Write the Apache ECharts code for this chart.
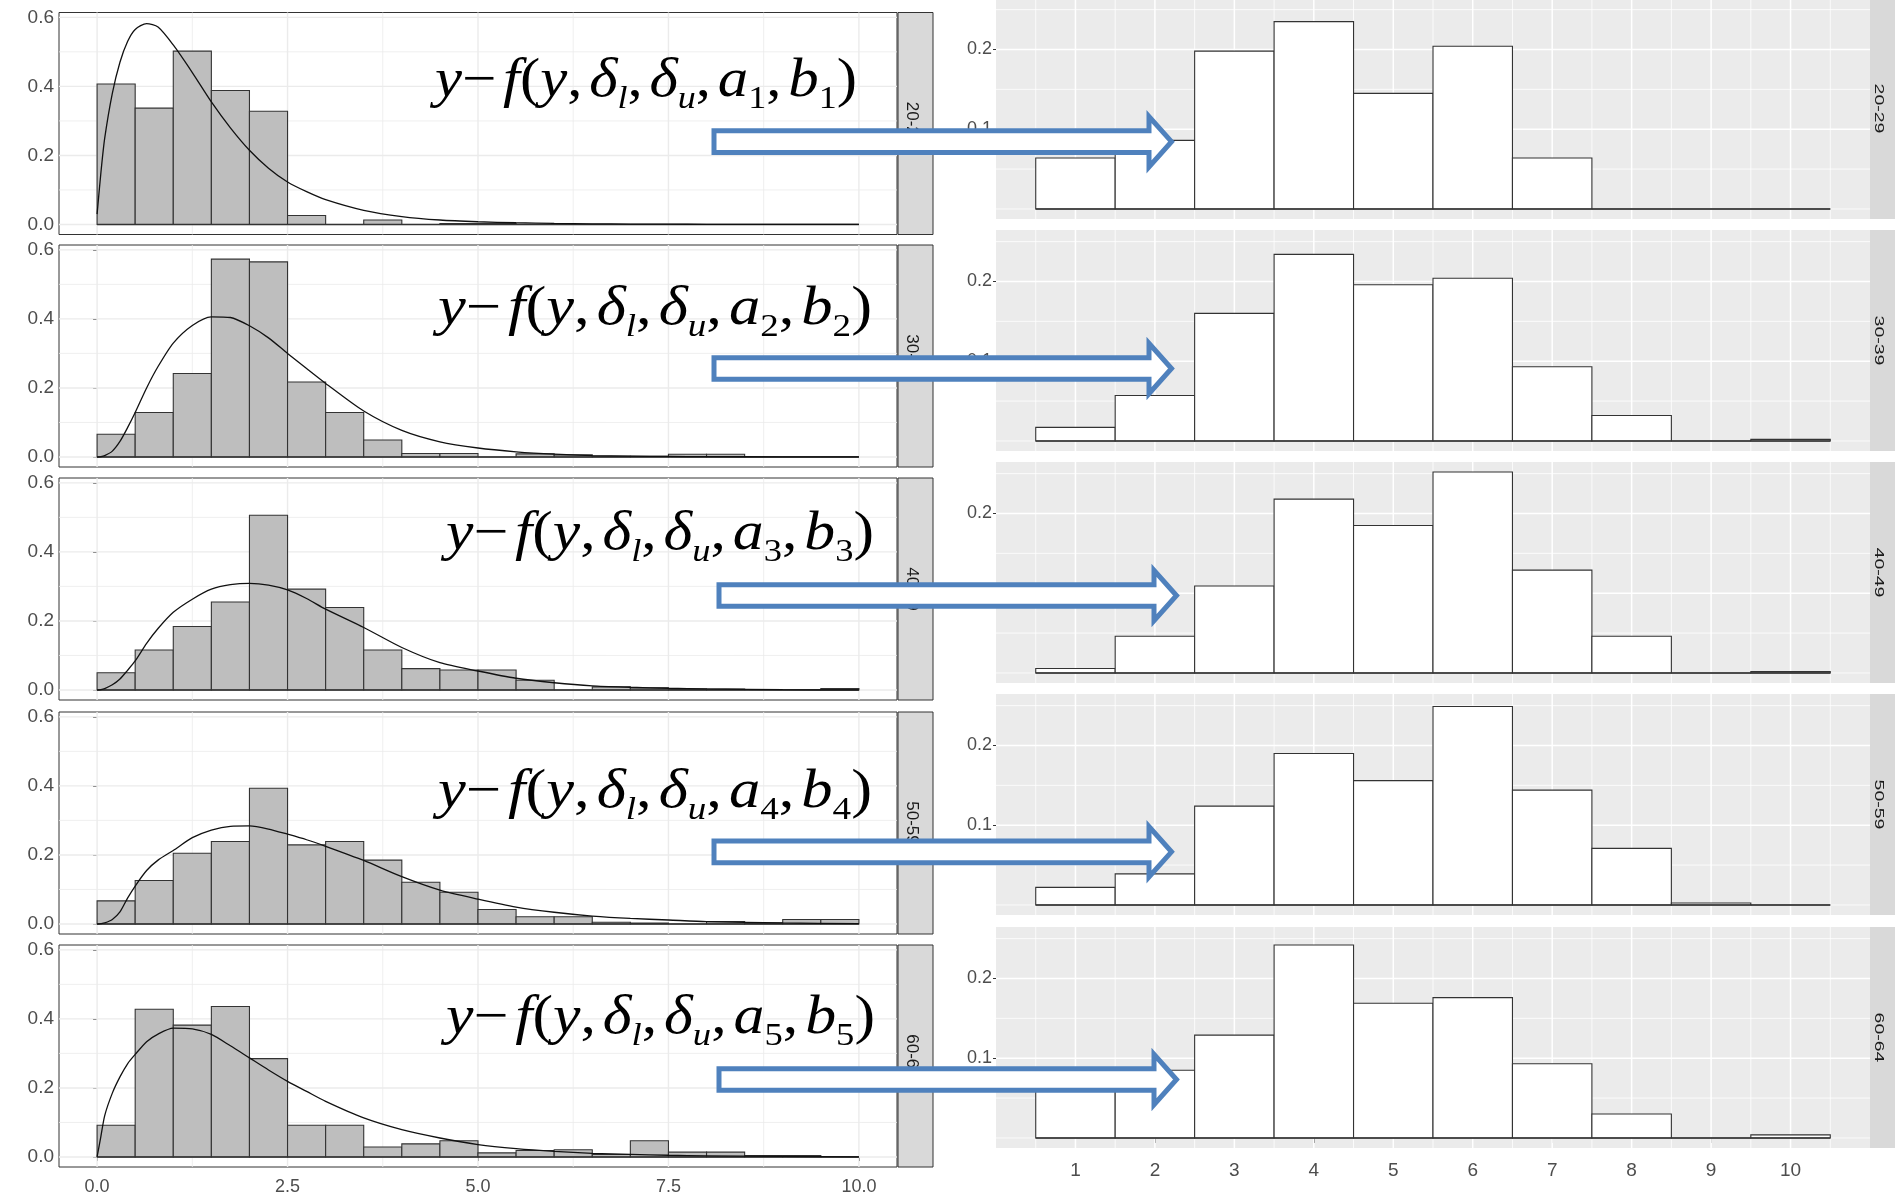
<!DOCTYPE html>
<html>
<head>
<meta charset="utf-8">
<script src="https://cdn.jsdelivr.net/npm/echarts@6/dist/echarts.min.js"></script>
<style>
  html, body { margin: 0; padding: 0; background: #fff; }
  #chart { width: 1895px; height: 1199px; }
</style>
</head>
<body>
<div id="chart"></div>
<script>
// ---- age groups (facet labels) ----
const groups = ['20-29', '30-39', '40-49', '50-59', '60-64'];

// ---- left column: histogram (bin width 0.5) with fitted density ----
const leftEdges = [0, 0.5, 1, 1.5, 2, 2.5, 3, 3.5, 4, 4.5, 5, 5.5, 6, 6.5, 7, 7.5, 8, 8.5, 9, 9.5, 10];
const leftHist2029 = [0.407, 0.337, 0.502, 0.388, 0.328, 0.026, 0, 0.013, 0, 0.003, 0.003, 0, 0, 0, 0, 0, 0, 0, 0, 0];
const leftHist3039 = [0.066, 0.129, 0.242, 0.573, 0.565, 0.217, 0.129, 0.049, 0.010, 0.010, 0, 0.009, 0.006, 0.002, 0.002, 0.008, 0.008, 0, 0, 0];
const leftHist4049 = [0.050, 0.116, 0.184, 0.255, 0.506, 0.292, 0.239, 0.116, 0.062, 0.058, 0.058, 0.028, 0, 0.009, 0.006, 0.003, 0.003, 0, 0, 0.004];
const leftHist5059 = [0.067, 0.126, 0.205, 0.239, 0.393, 0.229, 0.239, 0.185, 0.121, 0.092, 0.042, 0.021, 0.021, 0.005, 0.003, 0, 0.007, 0.003, 0.013, 0.013];
const leftHist6064 = [0.092, 0.428, 0.382, 0.436, 0.285, 0.092, 0.092, 0.029, 0.038, 0.047, 0.012, 0.019, 0.021, 0.007, 0.047, 0.014, 0.014, 0.004, 0.004, 0];

const curveX    = [0, 0.05, 0.1, 0.2, 0.3, 0.4, 0.5, 0.65, 0.8, 1.0, 1.25, 1.5, 1.75, 2.0, 2.25, 2.5, 2.75, 3.0, 3.5, 4.0, 4.5, 5.0, 5.5, 6.0, 6.5, 7.0, 7.5, 8.0, 9.0, 10.0];
const curve2029 = [0.03, 0.15, 0.25, 0.38, 0.47, 0.53, 0.565, 0.582, 0.572, 0.52, 0.44, 0.355, 0.28, 0.215, 0.163, 0.123, 0.095, 0.072, 0.041, 0.023, 0.013, 0.008, 0.005, 0.003, 0.002, 0.0012, 0.0008, 0.0005, 0.0002, 0.0001];
const curve3039 = [0, 0.001, 0.004, 0.017, 0.045, 0.085, 0.129, 0.2, 0.262, 0.33, 0.381, 0.406, 0.404, 0.38, 0.345, 0.3, 0.256, 0.213, 0.133, 0.077, 0.044, 0.026, 0.015, 0.008, 0.004, 0.0025, 0.0015, 0.001, 0.0004, 0.0001];
const curve4049 = [0, 0.001, 0.004, 0.015, 0.032, 0.057, 0.084, 0.135, 0.178, 0.225, 0.263, 0.292, 0.305, 0.309, 0.304, 0.29, 0.265, 0.234, 0.181, 0.123, 0.079, 0.055, 0.034, 0.021, 0.012, 0.008, 0.005, 0.003, 0.001, 0.0003];
const curve5059 = [0, 0.001, 0.003, 0.013, 0.035, 0.075, 0.11, 0.155, 0.185, 0.213, 0.25, 0.272, 0.283, 0.284, 0.275, 0.26, 0.244, 0.225, 0.184, 0.137, 0.098, 0.072, 0.049, 0.034, 0.023, 0.016, 0.0116, 0.007, 0.003, 0.001];
const curve6064 = [0, 0.06, 0.12, 0.185, 0.232, 0.27, 0.297, 0.334, 0.356, 0.373, 0.371, 0.355, 0.322, 0.287, 0.252, 0.219, 0.19, 0.161, 0.113, 0.079, 0.055, 0.036, 0.024, 0.016, 0.0106, 0.0075, 0.005, 0.0035, 0.0015, 0.0005];

// ---- right column: discretised distribution, bins centred on 1..10 ----
const rightEdges = [0.5, 1.5, 2.5, 3.5, 4.5, 5.5, 6.5, 7.5, 8.5, 9.5, 10.5];
const rightHist2029 = [0.064, 0.086, 0.198, 0.235, 0.145, 0.204, 0.064, 0, 0, 0];
const rightHist3039 = [0.017, 0.057, 0.160, 0.234, 0.196, 0.204, 0.093, 0.032, 0, 0.002];
const rightHist4049 = [0.0055, 0.046, 0.109, 0.218, 0.185, 0.252, 0.129, 0.046, 0, 0.0017];
const rightHist5059 = [0.022, 0.039, 0.124, 0.190, 0.156, 0.249, 0.144, 0.071, 0.0025, 0];
const rightHist6064 = [0.072, 0.085, 0.129, 0.242, 0.169, 0.176, 0.093, 0.030, 0, 0.0038];

// ---- tick labels and grid breaks ----
const leftXTicks = [0, 2.5, 5, 7.5, 10];
const leftXMinor = [1.25, 3.75, 6.25, 8.75];
const leftYTicks = [0, 0.2, 0.4, 0.6];
const leftYMinor = [0.1, 0.3, 0.5];
const rightXTicks = [1, 2, 3, 4, 5, 6, 7, 8, 9, 10];
const rightXMinor = [0.5, 1.5, 2.5, 3.5, 4.5, 5.5, 6.5, 7.5, 8.5, 9.5, 10.5];
const rightYTicks = [0.1, 0.2];
const rightYMinor = [0, 0.05, 0.15, 0.25];

const leftHists = [leftHist2029, leftHist3039, leftHist4049, leftHist5059, leftHist6064];
const leftCurves = [curve2029, curve3039, curve4049, curve5059, curve6064];
const rightHists = [rightHist2029, rightHist3039, rightHist4049, rightHist5059, rightHist6064];

// ---- layout ----
const LP = { left: 59, width: 838, tops: [12.5, 245, 478, 712, 945], height: 222,
             xMin: -0.5, xMax: 10.5, yMin: -0.029, yMax: 0.614 };
const RP = { left: 996, width: 874, tops: [-2, 230, 462, 694, 927], height: 221,
             xMin: 0, xMax: 11, yMin: -0.0126, yMax: 0.2646 };

const sans = '"Liberation Sans", Arial, sans-serif';
const narrow = '"Liberation Sans Narrow", "Arial Narrow", "Liberation Sans", sans-serif';
const serifFamily = '"Liberation Serif", "DejaVu Serif", serif';

// grids / axes: indices 0-4 are the left facets, 5-9 the right facets
const grids = new Array(10), xAxes = new Array(10), yAxes = new Array(10), series = [];

function gridLineSeries(idx, majX, minX, majY, minY, color, wMaj, wMin) {
  return {
    type: 'custom', xAxisIndex: idx, yAxisIndex: idx, z: 1, silent: true,
    data: [[majX[0], majY[0]]],
    renderItem(params, api) {
      const cs = params.coordSys;
      const children = [];
      const v = (val, w) => {
        const x = api.coord([val, majY[0]])[0];
        children.push({ type: 'line', shape: { x1: x, y1: cs.y, x2: x, y2: cs.y + cs.height },
                        style: { stroke: color, lineWidth: w } });
      };
      const h = (val, w) => {
        const y = api.coord([majX[0], val])[1];
        children.push({ type: 'line', shape: { x1: cs.x, y1: y, x2: cs.x + cs.width, y2: y },
                        style: { stroke: color, lineWidth: w } });
      };
      minX.forEach(a => v(a, wMin)); minY.forEach(a => h(a, wMin));
      majX.forEach(a => v(a, wMaj)); majY.forEach(a => h(a, wMaj));
      return { type: 'group', children };
    }
  };
}

function histSeries(idx, edges, values, fill) {
  return {
    type: 'custom', xAxisIndex: idx, yAxisIndex: idx, z: 3, silent: true,
    data: values.map((v, i) => [edges[i], edges[i + 1], v]),
    encode: { x: [0, 1], y: 2 },
    renderItem(params, api) {
      const a = api.coord([api.value(0), 0]);
      const b = api.coord([api.value(1), api.value(2)]);
      return { type: 'rect',
               shape: { x: a[0], y: b[1], width: b[0] - a[0], height: a[1] - b[1] },
               style: { fill, stroke: '#333', lineWidth: 1.1 } };
    }
  };
}

for (let i = 0; i < 5; i++) {
  const bottom = i === 4;
  // left facet
  grids[i] = { left: LP.left, width: LP.width, top: LP.tops[i], height: LP.height,
               show: true, backgroundColor: '#fff', borderColor: '#333', borderWidth: 1,
               containLabel: false, outerBoundsMode: 'none' };
  xAxes[i] = { type: 'value', gridIndex: i, min: LP.xMin, max: LP.xMax,
               axisLine: { show: false }, splitLine: { show: false },
               axisTick: { show: bottom, customValues: leftXTicks, length: 4, lineStyle: { color: '#333' } },
               axisLabel: { show: bottom, customValues: leftXTicks, formatter: v => v.toFixed(1),
                            color: '#4D4D4D', fontSize: 18, fontFamily: sans, margin: 11 } };
  yAxes[i] = { type: 'value', gridIndex: i, min: LP.yMin, max: LP.yMax,
               axisLine: { show: false }, splitLine: { show: false },
               axisTick: { show: true, customValues: leftYTicks, length: 4, lineStyle: { color: '#333' } },
               axisLabel: { customValues: leftYTicks, formatter: v => v.toFixed(1),
                            color: '#4D4D4D', fontSize: 19, fontFamily: sans, margin: 5 } };
  series.push(gridLineSeries(i, leftXTicks, leftXMinor, leftYTicks, leftYMinor, '#EBEBEB', 1.4, 0.8));
  series.push(histSeries(i, leftEdges, leftHists[i], '#BEBEBE'));
  series.push({ type: 'line', xAxisIndex: i, yAxisIndex: i, z: 4, silent: true,
                data: [[leftEdges[0], 0], [leftEdges[leftEdges.length - 1], 0]],
                symbol: 'none', lineStyle: { color: '#333', width: 1.4 } });
  series.push({ type: 'line', xAxisIndex: i, yAxisIndex: i, z: 5, silent: true,
                data: curveX.map((x, k) => [x, leftCurves[i][k]]),
                symbol: 'none', smooth: 0.25,
                lineStyle: { color: '#111', width: 1.3 } });

  // right facet
  const j = 5 + i;
  grids[j] = { left: RP.left, width: RP.width, top: RP.tops[i], height: RP.height,
               show: true, backgroundColor: '#EBEBEB', borderWidth: 0, borderColor: 'transparent',
               containLabel: false, outerBoundsMode: 'none' };
  xAxes[j] = { type: 'value', gridIndex: j, min: RP.xMin, max: RP.xMax,
               axisLine: { show: false }, splitLine: { show: false },
               axisTick: { show: bottom, customValues: rightXTicks, length: 5, lineStyle: { color: '#333' } },
               axisLabel: { show: bottom, customValues: rightXTicks, formatter: v => String(v),
                            color: '#4D4D4D', fontSize: 19, fontFamily: narrow, margin: 13 } };
  yAxes[j] = { type: 'value', gridIndex: j, min: RP.yMin, max: RP.yMax,
               axisLine: { show: false }, splitLine: { show: false },
               axisTick: { show: true, customValues: rightYTicks, length: 3, lineStyle: { color: '#333' } },
               axisLabel: { customValues: rightYTicks, formatter: v => v.toFixed(1),
                            color: '#4D4D4D', fontSize: 18, fontFamily: narrow, margin: 4 } };
  series.push(gridLineSeries(j, rightXTicks, rightXMinor, rightYTicks, rightYMinor, '#FFFFFF', 1.5, 0.8));
  series.push(histSeries(j, rightEdges, rightHists[i], '#FFFFFF'));
  series.push({ type: 'line', xAxisIndex: j, yAxisIndex: j, z: 4, silent: true,
                data: [[rightEdges[0], 0], [rightEdges[rightEdges.length - 1], 0]],
                symbol: 'none', lineStyle: { color: '#333', width: 1.4 } });
}

// ---- annotations: strips, formulas, arrows ----
const graphics = [];

groups.forEach((g, i) => {
  graphics.push({ type: 'rect', z: 50, silent: true,
                  shape: { x: 898, y: LP.tops[i], width: 35, height: LP.height },
                  style: { fill: '#D9D9D9', stroke: '#333', lineWidth: 1 } });
  graphics.push({ type: 'text', z: 51, silent: true, x: 911.5, y: LP.tops[i] + LP.height / 2,
                  rotation: -Math.PI / 2,
                  style: { text: g, fill: '#1A1A1A', font: '17px ' + sans,
                           align: 'center', verticalAlign: 'middle',
                           textAlign: 'center', textVerticalAlign: 'middle' } });
  graphics.push({ type: 'rect', z: 50, silent: true,
                  shape: { x: 1870, y: RP.tops[i], width: 30, height: RP.height },
                  style: { fill: '#D9D9D9' } });
  graphics.push({ type: 'text', z: 51, silent: true, x: 1878.5, y: RP.tops[i] + RP.height / 2,
                  rotation: -Math.PI / 2, scaleX: 1.5,
                  style: { text: g, fill: '#1A1A1A', font: '13px ' + sans,
                           align: 'center', verticalAlign: 'middle',
                           textAlign: 'center', textVerticalAlign: 'middle' } });
});

// formula y ~ f(y, δl, δu, a_k, b_k): one text element per glyph run, grouped and stretched to its box
const MAIN = 54, SUB = 32;
const measureCtx = document.createElement('canvas').getContext('2d');
const glyphKinds = {
  i:  { font: 'italic ' + MAIN + 'px ' + serifFamily, dy: -0.3 * MAIN, pad: 0 },
  r:  { font: MAIN + 'px ' + serifFamily,            dy: -0.3 * MAIN, pad: 0 },
  c:  { font: MAIN + 'px ' + serifFamily,            dy: -0.3 * MAIN, pad: 6 },
  si: { font: 'italic ' + SUB + 'px ' + serifFamily,  dy: 11 - 0.3 * SUB, pad: 0 },
  sr: { font: SUB + 'px ' + serifFamily,             dy: 11 - 0.3 * SUB, pad: 0 }
};

function formula(k, x, baseline, boxWidth) {
  const tokens = [['y', 'i'], ['\u2212', 'c'], ['f', 'i'], ['(', 'r'], ['y', 'i'], [',', 'c'],
                  ['\u03b4', 'i'], ['l', 'si'], [',', 'c'], ['\u03b4', 'i'], ['u', 'si'], [',', 'c'],
                  ['a', 'i'], [k, 'sr'], [',', 'c'], ['b', 'i'], [k, 'sr'], [')', 'r']];
  let cx = 0;
  const children = [];
  tokens.forEach(([t, kind]) => {
    const g = glyphKinds[kind];
    measureCtx.font = g.font;
    const w = measureCtx.measureText(t).width;
    children.push({ type: 'text', z: 60, silent: true, x: cx, y: g.dy,
                    style: { text: t, font: g.font, fill: '#000',
                             align: 'left', verticalAlign: 'middle',
                             textAlign: 'left', textVerticalAlign: 'middle' } });
    cx += w + g.pad;
  });
  return { type: 'group', z: 60, silent: true, x, y: baseline, scaleX: boxWidth / cx, children };
}
const formulaPos = [[435, 98, 422], [438, 326, 434], [446, 551, 428], [438, 809, 434], [446, 1035, 429]];
formulaPos.forEach((p, i) => graphics.push(formula(String(i + 1), p[0], p[1], p[2])));

// block arrows from each fitted panel to its discretised panel
function arrowPoints(c, x0, shift) {
  const hb = 1149 + shift, tip = 1171.5 + shift;
  return [[x0, c - 10.85], [hb, c - 10.85], [hb, c - 25.2], [tip, c],
          [hb, c + 25.2], [hb, c + 10.85], [x0, c + 10.85]];
}
const arrowPos = [[141.7, 714, 0], [368.5, 714, 0], [595.5, 719, 5], [851.8, 714, 0], [1079.5, 719, 5]];
arrowPos.forEach(a => graphics.push({
  type: 'polygon', z: 100, silent: true,
  shape: { points: arrowPoints(a[0], a[1], a[2]) },
  style: { fill: '#FFFFFF', stroke: '#4F81BD', lineWidth: 5, lineJoin: 'miter' }
}));

const chart = echarts.init(document.getElementById('chart'), null, { renderer: 'canvas' });
chart.setOption({
  animation: false,
  backgroundColor: '#FFFFFF',
  grid: grids,
  xAxis: xAxes,
  yAxis: yAxes,
  series,
  graphic: { elements: graphics }
});
</script>
</body>
</html>
